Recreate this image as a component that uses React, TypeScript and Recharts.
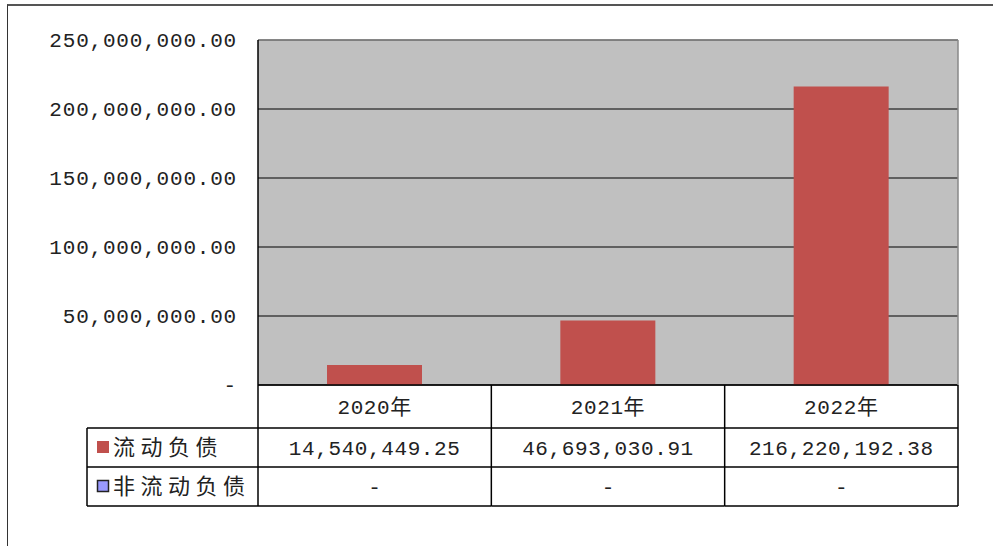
import React from "react";
import { BarChart, Bar, XAxis, YAxis, CartesianGrid, ReferenceLine } from "recharts";

const categories = ["2020年", "2021年", "2022年"];
const currentLiabilities = [14540449.25, 46693030.91, 216220192.38];
const nonCurrentLiabilities: (number | null)[] = [null, null, null];
const seriesNames = ["流动负债", "非流动负债"];
const yTicks = [0, 50000000, 100000000, 150000000, 200000000, 250000000];

const data = categories.map((c, i) => ({
  name: c,
  current: currentLiabilities[i],
  nonCurrent: nonCurrentLiabilities[i],
}));

const W = 993;
const H = 546;
const PLOT_LEFT = 258;
const PLOT_RIGHT = 958;
const PLOT_TOP = 40;
const PLOT_BOTTOM = 385;
const BAND = (PLOT_RIGHT - PLOT_LEFT) / categories.length;
const ROW1 = 43;
const ROW2 = 39;
const ROW3 = 39;
const HEADER_LEFT = 87;
const FONT = "'Liberation Mono', 'Noto Sans CJK SC', monospace";
const CJK = "'Noto Sans CJK SC', sans-serif";
const RED = "#C0504D";
const BLUE = "#9999FF";

const fmt = (v: number | null) => {
  if (v === null || v === 0) return "-";
  return v.toLocaleString("en-US", { minimumFractionDigits: 2, maximumFractionDigits: 2 });
};

const YTick = (props: any) => {
  const { x, y, payload } = props;
  return (
    <text x={x} y={y} dy={7} textAnchor="end" fontFamily={FONT} fontSize={21} letterSpacing={0.8} fill="#222">
      {fmt(payload.value)}
    </text>
  );
};

const TableColumn = (props: any) => {
  const { x, y, payload, index } = props;
  const i = index ?? payload.index;
  const left = x - BAND / 2;
  const right = x + BAND / 2;
  const r1 = y + ROW1;
  const r2 = r1 + ROW2;
  const r3 = r2 + ROW3;
  return (
    <g>
      {i === 0 && (
        <g>
          <line x1={left} y1={y} x2={left} y2={r3} stroke="#000" strokeWidth={1.5} />
          <line x1={HEADER_LEFT} y1={r1} x2={left} y2={r1} stroke="#000" strokeWidth={1.5} />
          <line x1={HEADER_LEFT} y1={r2} x2={left} y2={r2} stroke="#000" strokeWidth={1.5} />
          <line x1={HEADER_LEFT} y1={r3} x2={left} y2={r3} stroke="#000" strokeWidth={1.5} />
          <line x1={HEADER_LEFT} y1={r1} x2={HEADER_LEFT} y2={r3} stroke="#000" strokeWidth={1.5} />
          <rect x={97} y={r1 + 13} width={12} height={12} fill={RED} />
          <text x={113} y={r1 + ROW2 / 2} dy={7} fontFamily={CJK} fontSize={22} letterSpacing={5.5} fill="#222">
            {seriesNames[0]}
          </text>
          <rect x={97.5} y={r2 + 13.5} width={11} height={11} fill={BLUE} stroke="#222" strokeWidth={1.5} />
          <text x={113} y={r2 + ROW3 / 2} dy={7} fontFamily={CJK} fontSize={22} letterSpacing={5.5} fill="#222">
            {seriesNames[1]}
          </text>
        </g>
      )}
      <line x1={right} y1={y} x2={right} y2={r3} stroke="#000" strokeWidth={1.5} />
      <line x1={left} y1={r1} x2={right} y2={r1} stroke="#000" strokeWidth={1.5} />
      <line x1={left} y1={r2} x2={right} y2={r2} stroke="#000" strokeWidth={1.5} />
      <line x1={left} y1={r3} x2={right} y2={r3} stroke="#000" strokeWidth={1.5} />
      <text x={x} y={y + ROW1 / 2} dy={7} textAnchor="middle" fontFamily={FONT} fontSize={21} letterSpacing={0.6} fill="#222">
        {payload.value}
      </text>
      <text x={x} y={r1 + ROW2 / 2} dy={7} textAnchor="middle" fontFamily={FONT} fontSize={21} letterSpacing={0.6} fill="#222">
        {fmt(currentLiabilities[i])}
      </text>
      <text x={x} y={r2 + ROW3 / 2} dy={7} textAnchor="middle" fontFamily={FONT} fontSize={21} fill="#222">
        {fmt(nonCurrentLiabilities[i])}
      </text>
    </g>
  );
};

export default function App() {
  return (
    <div style={{ position: "absolute", left: 0, top: 0, width: W, height: H, background: "#fff" }}>
      <div
        style={{
          position: "absolute",
          left: 7,
          top: 4,
          width: W - 7,
          height: H - 4,
          borderTop: "2px solid #555",
          borderLeft: "1px solid #333",
          boxSizing: "border-box",
        }}
      />
      <div style={{ position: "absolute", left: 0, top: 0 }}>
        <BarChart
          width={W}
          height={H}
          data={data}
          margin={{ top: PLOT_TOP, right: 0, left: 0, bottom: 0 }}
          barCategoryGap={0}
        >
          <CartesianGrid yAxisId="left" vertical={false} stroke="#000" strokeWidth={1.2} fill="#C0C0C0" fillOpacity={1} />
          <XAxis
            dataKey="name"
            height={H - PLOT_BOTTOM}
            axisLine={{ stroke: "#000", strokeWidth: 1.5 }}
            tickLine={false}
            tickSize={0}
            tickMargin={0}
            interval={0}
            tick={(p: any) => <TableColumn {...p} />}
          />
          <YAxis
            yAxisId="left"
            width={PLOT_LEFT}
            domain={[0, 250000000]}
            ticks={yTicks}
            interval={0}
            axisLine={{ stroke: "#000", strokeWidth: 1.5 }}
            tickLine={false}
            tickSize={0}
            tickMargin={21}
            tick={(p: any) => <YTick {...p} />}
          />
          <YAxis
            yAxisId="right"
            orientation="right"
            width={W - PLOT_RIGHT}
            domain={[0, 250000000]}
            axisLine={{ stroke: "#888", strokeWidth: 1.5 }}
            tick={false}
            tickLine={false}
          />
          <ReferenceLine yAxisId="left" y={250000000} stroke="#888" strokeWidth={1.5} />
          <Bar yAxisId="left" dataKey="current" fill={RED} barSize={95} isAnimationActive={false} />
        </BarChart>
      </div>
    </div>
  );
}
